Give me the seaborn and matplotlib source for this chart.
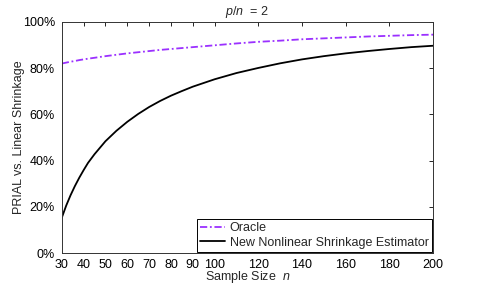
import pandas as pd
import matplotlib
matplotlib.use("Agg")
import matplotlib.pyplot as plt
import seaborn as sns

# ----------------------------------------
# DATA
# ----------------------------------------
sample_size = [30, 32, 34, 36, 38, 40, 42, 45, 50, 55, 60, 65, 70, 75, 80, 85, 90,
               100, 110, 120, 130, 140, 150, 160, 170, 180, 190, 200]
oracle = [82.0, 82.4, 82.8, 83.1, 83.5, 83.8, 84.1, 84.5, 85.2, 85.8, 86.4, 86.9, 87.4,
          87.9, 88.3, 88.7, 89.1, 89.9, 90.7, 91.4, 91.9, 92.5, 92.9, 93.3, 93.7, 94.0,
          94.3, 94.5]
nonlinear = [15.3, 20.5, 25.0, 29.0, 32.6, 35.9, 39.0, 42.8, 48.4, 52.9, 56.8, 60.2, 63.2,
             65.8, 68.1, 70.1, 72.0, 75.2, 77.9, 80.1, 82.1, 83.8, 85.2, 86.4, 87.4, 88.3,
             89.1, 89.7]
x_ticks = [30, 40, 50, 60, 70, 80, 90, 100, 120, 140, 160, 180, 200]
y_ticks = [0, 20, 40, 60, 80, 100]

sns.set_style("white")
plt.rcParams['font.family'] = ['Liberation Sans', 'DejaVu Sans']
plt.rcParams['mathtext.fontset'] = 'custom'
plt.rcParams['mathtext.it'] = 'Liberation Sans:italic'
plt.rcParams['mathtext.rm'] = 'Liberation Sans'

df = pd.DataFrame({
    "n": sample_size * 2,
    "PRIAL": oracle + nonlinear,
    "Series": ["Oracle"] * len(oracle) + ["New Nonlinear Shrinkage Estimator"] * len(nonlinear),
})

fig = plt.figure(figsize=(4.79, 2.85), dpi=100)
ax = fig.add_axes([0.129, 0.112, 0.775, 0.811])

sns.lineplot(data=df, x="n", y="PRIAL", hue="Series", style="Series",
             palette={"Oracle": "#9b30ff", "New Nonlinear Shrinkage Estimator": "black"},
             dashes={"Oracle": (4, 1.5, 1, 1.5), "New Nonlinear Shrinkage Estimator": ""},
             linewidth=1.3, ax=ax, estimator=None)

ax.set_xlim(30, 200)
ax.set_ylim(0, 100)
ax.set_xticks(x_ticks)
ax.set_yticks(y_ticks)
ax.set_yticklabels([f"{v}%" for v in y_ticks])
ax.tick_params(direction="in", length=3, width=0.6, top=True, right=True,
               labelsize=9, colors="black")
ax.tick_params(axis="y", pad=5)
ax.tick_params(axis="x", pad=4)
for s in ax.spines.values():
    s.set_linewidth(0.7)
    s.set_color("#333333")

ax.set_title(r"$p/n$  = 2", fontsize=9, pad=5)
ax.set_xlabel(r"Sample Size  $n$", fontsize=9, labelpad=-1)
ax.set_ylabel("PRIAL vs. Linear Shrinkage", fontsize=9, labelpad=-2)

leg = ax.legend(loc="lower right", fontsize=9, frameon=True, fancybox=False,
                borderaxespad=0.1, handlelength=2.0, borderpad=0.25,
                labelspacing=0.2, handletextpad=0.4)
leg.get_frame().set_edgecolor("black")
leg.get_frame().set_linewidth(0.7)
leg.get_frame().set_alpha(1)

plt.savefig("out.png", dpi=100)
